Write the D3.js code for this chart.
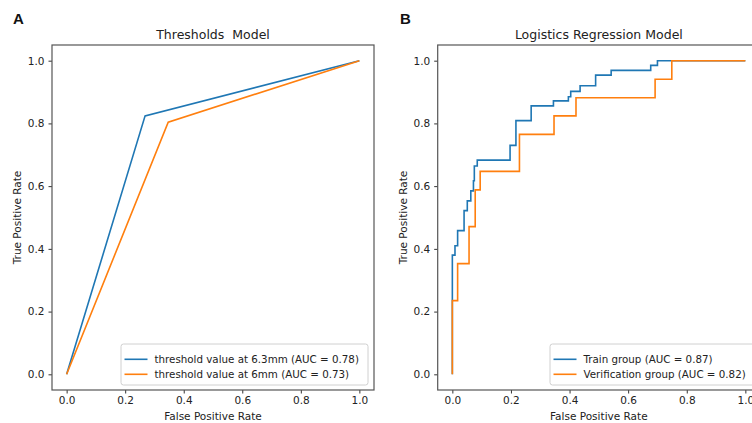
<!DOCTYPE html>
<html>
<head>
<meta charset="utf-8">
<script src="https://cdn.jsdelivr.net/npm/d3@7"></script>
<style>
  body { margin: 0; background: #fff; }
  svg { font-family: "DejaVu Sans", sans-serif; display: block; }
</style>
</head>
<body>
<svg width="752" height="423"></svg>
<script>
// data
const tickValues = [0, 0.2, 0.4, 0.6, 0.8, 1.0];

const fpr63 = [0, 0.268, 1];
const tpr63 = [0, 0.824, 1];
const fpr6 = [0, 0.347, 1];
const tpr6 = [0, 0.804, 1];

const trainFpr = [0, 0, 0.009, 0.009, 0.018, 0.018, 0.040, 0.040, 0.051, 0.051, 0.063, 0.063, 0.072, 0.072, 0.075, 0.075, 0.085, 0.085, 0.197, 0.197, 0.217, 0.217, 0.269, 0.269, 0.345, 0.345, 0.396, 0.396, 0.404, 0.404, 0.436, 0.436, 0.489, 0.489, 0.542, 0.542, 0.677, 0.677, 0.700, 0.700, 1];
const trainTpr = [0, 0.38, 0.38, 0.41, 0.41, 0.458, 0.458, 0.522, 0.522, 0.553, 0.553, 0.585, 0.585, 0.617, 0.617, 0.664, 0.664, 0.683, 0.683, 0.730, 0.730, 0.809, 0.809, 0.856, 0.856, 0.872, 0.872, 0.885, 0.885, 0.902, 0.902, 0.920, 0.920, 0.954, 0.954, 0.969, 0.969, 0.985, 0.985, 1, 1];

const valFpr = [0, 0, 0.018, 0.018, 0.057, 0.057, 0.078, 0.078, 0.095, 0.095, 0.229, 0.229, 0.347, 0.347, 0.422, 0.422, 0.692, 0.692, 0.749, 0.749, 1];
const valTpr = [0, 0.235, 0.235, 0.353, 0.353, 0.471, 0.471, 0.588, 0.588, 0.647, 0.647, 0.765, 0.765, 0.824, 0.824, 0.882, 0.882, 0.941, 0.941, 1, 1];

const blue = "#1f77b4", orange = "#ff7f0e";

const panels = [
  {
    letter: "A", title: "Thresholds  Model",
    left: 52, right: 374, top: 45, bottom: 390,
    letterX: 13, yLabelX: 17,
    series: [
      { name: "threshold value at 6.3mm (AUC = 0.78)", color: blue, x: fpr63, y: tpr63 },
      { name: "threshold value at 6mm (AUC = 0.73)", color: orange, x: fpr6, y: tpr6 }
    ],
    legend: { x: 121, y: 344, w: 247, h: 41 }
  },
  {
    letter: "B", title: "Logistics Regression Model",
    left: 437.7, right: 760, top: 45, bottom: 390,
    letterX: 400, yLabelX: 402.5,
    series: [
      { name: "Train group (AUC = 0.87)", color: blue, x: trainFpr, y: trainTpr },
      { name: "Verification group (AUC = 0.82)", color: orange, x: valFpr, y: valTpr }
    ],
    legend: { x: 550, y: 344, w: 207, h: 41 }
  }
];

var svg = d3.select("svg");

panels.forEach(function(p) {
  var x = d3.scaleLinear().domain([-0.05, 1.05]).range([p.left, p.right]);
  var y = d3.scaleLinear().domain([-0.05, 1.05]).range([p.bottom, p.top]);
  var g = svg.append("g");

  // lines
  var line = d3.line().x(d => x(d[0])).y(d => y(d[1]));
  p.series.forEach(function(s) {
    g.append("path")
      .datum(s.x.map((v, i) => [v, s.y[i]]))
      .attr("d", line)
      .attr("fill", "none")
      .attr("stroke", s.color)
      .attr("stroke-width", 1.6);
  });

  // axes
  var xAxis = g.append("g")
    .attr("transform", "translate(0," + p.bottom + ")")
    .call(d3.axisBottom(x).tickValues(tickValues).tickFormat(d3.format(".1f")).tickSize(3.5).tickPadding(3));
  var yAxis = g.append("g")
    .attr("transform", "translate(" + p.left + ",0)")
    .call(d3.axisLeft(y).tickValues(tickValues).tickFormat(d3.format(".1f")).tickSize(3.5).tickPadding(4));
  [xAxis, yAxis].forEach(function(a) {
    a.select(".domain").remove();
    a.selectAll("line").attr("stroke", "#333");
    a.selectAll("text").attr("font-size", 10.5).attr("fill", "#222")
      .attr("font-family", "DejaVu Sans, sans-serif");
  });

  // spines
  g.append("rect")
    .attr("x", p.left).attr("y", p.top)
    .attr("width", p.right - p.left).attr("height", p.bottom - p.top)
    .attr("fill", "none").attr("stroke", "#555").attr("stroke-width", 1.2);

  // labels
  g.append("text").text(p.title)
    .attr("x", (p.left + p.right) / 2).attr("y", 39)
    .style("white-space", "pre")
    .attr("text-anchor", "middle").attr("font-size", 12.5).attr("fill", "#222");
  g.append("text").text("False Positive Rate")
    .attr("x", (p.left + p.right) / 2).attr("y", 420)
    .attr("text-anchor", "middle").attr("font-size", 10.5).attr("fill", "#222");
  g.append("text").text("True Positive Rate")
    .attr("transform", "translate(" + (p.yLabelX + 4) + "," + ((p.top + p.bottom) / 2) + ") rotate(-90)")
    .attr("text-anchor", "middle").attr("font-size", 10.5).attr("fill", "#222");
  g.append("text").text(p.letter)
    .attr("x", p.letterX).attr("y", 24)
    .attr("font-size", 15).attr("font-weight", "bold").attr("fill", "#111")
    .attr("font-family", "Liberation Sans, Arial, sans-serif");

  // legend
  var lg = g.append("g");
  lg.append("rect")
    .attr("x", p.legend.x).attr("y", p.legend.y)
    .attr("width", p.legend.w).attr("height", p.legend.h)
    .attr("rx", 2.5)
    .attr("fill", "#fff").attr("fill-opacity", 0.85)
    .attr("stroke", "#d0d0d0");
  p.series.forEach(function(s, i) {
    var cy = 359.3 + i * 15;
    lg.append("line")
      .attr("x1", p.legend.x + 3.5).attr("x2", p.legend.x + 26.5)
      .attr("y1", cy).attr("y2", cy)
      .attr("stroke", s.color).attr("stroke-width", 1.6);
    lg.append("text").text(s.name)
      .attr("x", p.legend.x + 33.5).attr("y", cy + 4)
      .attr("font-size", 10.3).attr("fill", "#222");
  });
});
</script>
</body>
</html>
